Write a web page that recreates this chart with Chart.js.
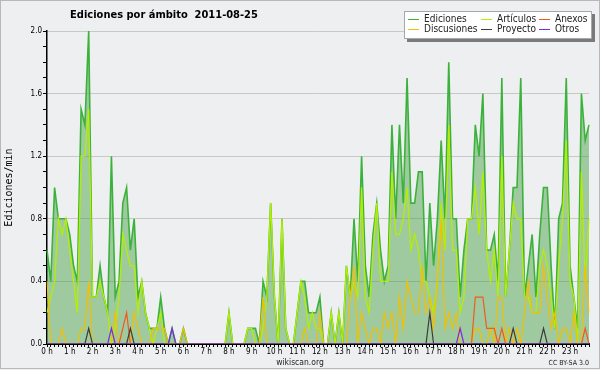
<!DOCTYPE html>
<html>
<head>
<meta charset="utf-8">
<script src="https://cdn.jsdelivr.net/npm/chart.js@4.4.1/dist/chart.umd.min.js"></script>
<style>
  html, body { margin: 0; padding: 0; background: #eeeff0; }
  canvas { display: block; }
</style>
</head>
<body>
<canvas id="chart" width="600" height="370"></canvas>
<script>
const chartTitle = "Ediciones por ámbito  2011-08-25";
const yTitle = "Ediciones/min";
const hours = ["0 h", "1 h", "2 h", "3 h", "4 h", "5 h", "6 h", "7 h", "8 h", "9 h", "10 h", "11 h",
  "12 h", "13 h", "14 h", "15 h", "16 h", "17 h", "18 h", "19 h", "20 h", "21 h", "22 h", "23 h"];

// one value every 10 minutes, 12 values per row (2 hours)
const ediciones = [
  0.6, 0.4, 1.0, 0.8, 0.8, 0.8, 0.7, 0.5, 0.4, 1.5, 1.4, 2.0,
  0.3, 0.3, 0.5, 0.3, 0.2, 1.2, 0.3, 0.4, 0.9, 1.0, 0.6, 0.8,
  0.3, 0.4, 0.2, 0.1, 0.1, 0.1, 0.3, 0.1, 0, 0.1, 0, 0,
  0.1, 0, 0, 0, 0, 0, 0, 0, 0, 0, 0, 0,
  0.2, 0, 0, 0, 0, 0.1, 0.1, 0.1, 0, 0.4, 0.3, 0.9,
  0.3, 0, 0.8, 0.1, 0, 0, 0.2, 0.4, 0.4, 0.2, 0.2, 0.2,
  0.3, 0, 0, 0.2, 0, 0.2, 0, 0.5, 0.3, 0.8, 0.4, 1.2,
  0.5, 0.3, 0.7, 0.9, 0.6, 0.4, 0.5, 1.4, 0.8, 1.4, 0.9, 1.7,
  0.9, 0.9, 1.1, 1.1, 0.4, 0.9, 0.5, 0.8, 1.3, 0.8, 1.8, 0.8,
  0.8, 0.3, 0.6, 0.8, 0.8, 1.4, 1.2, 1.6, 0.6, 0.6, 0.7, 0.4,
  1.7, 0.3, 0.6, 1.0, 1.0, 1.7, 0.3, 0.5, 0.7, 0.3, 0.7, 1.0,
  1.0, 0.5, 0.1, 0.8, 0.9, 1.7, 0.5, 0.3, 0.1, 1.6, 1.3, 1.4
];
const articulos = [
  0.2, 0.3, 0.4, 0.8, 0.7, 0.8, 0.6, 0.4, 0.2, 1.2, 1.2, 1.5,
  0.3, 0.3, 0.4, 0.3, 0.2, 0, 0.1, 0.3, 0.7, 0.6, 0.5, 0.5,
  0.2, 0.4, 0.2, 0.1, 0, 0.1, 0.2, 0, 0, 0, 0, 0,
  0, 0, 0, 0, 0, 0, 0, 0, 0, 0, 0, 0,
  0.2, 0, 0, 0, 0, 0.1, 0.1, 0, 0, 0.1, 0.3, 0.9,
  0.3, 0, 0.8, 0.1, 0, 0, 0.2, 0.4, 0.3, 0.1, 0.2, 0.1,
  0.1, 0, 0, 0.2, 0, 0.2, 0, 0.5, 0.3, 0.4, 0.3, 1.0,
  0.3, 0.2, 0.6, 0.9, 0.4, 0.4, 0.4, 1.1, 0.7, 0.7, 0.8, 1.0,
  0.6, 0.7, 0.6, 0.4, 0.4, 0.3, 0.2, 0.4, 0.9, 0.6, 1.4, 0.6,
  0.6, 0.2, 0.3, 0.8, 0.8, 1.0, 0.7, 1.1, 0.6, 0.4, 0.6, 0.3,
  1.2, 0.3, 0.6, 0.9, 0.8, 0.8, 0.3, 0.3, 0.2, 0.2, 0.5, 0.6,
  0.5, 0.3, 0.1, 0.5, 0.8, 1.3, 0.4, 0.3, 0, 1.1, 0.4, 0.8
];
const discusiones = [
  0.4, 0, 0, 0, 0.1, 0, 0, 0, 0, 0.1, 0.1, 0.4,
  0, 0, 0, 0, 0, 0, 0.2, 0, 0, 0, 0, 0.2,
  0.1, 0, 0, 0, 0.1, 0.1, 0.1, 0.1, 0, 0, 0, 0,
  0.1, 0, 0, 0, 0, 0, 0, 0, 0, 0, 0, 0,
  0, 0, 0, 0, 0, 0, 0, 0, 0, 0.3, 0, 0,
  0, 0, 0, 0, 0, 0, 0, 0, 0.1, 0, 0, 0,
  0.2, 0, 0, 0, 0, 0, 0, 0, 0.3, 0.5, 0, 0.2,
  0.1, 0, 0.1, 0.1, 0, 0.2, 0.1, 0.2, 0, 0.3, 0.1, 0.4,
  0.3, 0.2, 0.2, 0.5, 0.2, 0.3, 0.1, 0.4, 0.8, 0.1, 0.2, 0.1,
  0.2, 0, 0, 0, 0, 0.1, 0.1, 0, 0, 0.1, 0, 0.3,
  0.3, 0, 0.1, 0, 0.1, 0, 0.2, 0.4, 0.2, 0.2, 0.2, 0.5,
  0.3, 0.1, 0.2, 0, 0.1, 0.1, 0, 0.2, 0, 0, 0.5, 0.2
];
const anexos = [
  0, 0, 0, 0, 0, 0, 0, 0, 0, 0, 0, 0,
  0, 0, 0, 0, 0, 0, 0, 0, 0.1, 0.2, 0, 0,
  0, 0, 0, 0, 0, 0, 0, 0, 0, 0, 0, 0,
  0, 0, 0, 0, 0, 0, 0, 0, 0, 0, 0, 0,
  0, 0, 0, 0, 0, 0, 0, 0, 0, 0, 0, 0,
  0, 0, 0, 0, 0, 0, 0, 0, 0, 0, 0, 0,
  0, 0, 0, 0, 0, 0, 0, 0, 0, 0, 0, 0,
  0, 0, 0, 0, 0, 0, 0, 0, 0, 0, 0, 0,
  0, 0, 0, 0, 0, 0, 0, 0, 0, 0, 0, 0,
  0, 0, 0, 0, 0, 0.3, 0.3, 0.3, 0.1, 0.1, 0.1, 0,
  0.1, 0, 0, 0, 0, 0, 0, 0, 0, 0, 0, 0,
  0, 0, 0, 0, 0, 0, 0, 0, 0, 0, 0.1, 0
];
const proyecto = [
  0, 0, 0, 0, 0, 0, 0, 0, 0, 0, 0, 0.1,
  0, 0, 0, 0, 0, 0, 0, 0, 0, 0, 0.1, 0,
  0, 0, 0, 0, 0, 0, 0, 0, 0, 0, 0, 0,
  0, 0, 0, 0, 0, 0, 0, 0, 0, 0, 0, 0,
  0, 0, 0, 0, 0, 0, 0, 0, 0, 0, 0, 0,
  0, 0, 0, 0, 0, 0, 0, 0, 0, 0, 0, 0,
  0, 0, 0, 0, 0, 0, 0, 0, 0, 0, 0, 0,
  0, 0, 0, 0, 0, 0, 0, 0, 0, 0, 0, 0,
  0, 0, 0, 0, 0, 0.2, 0, 0, 0, 0, 0, 0,
  0, 0, 0, 0, 0, 0, 0, 0, 0, 0, 0, 0,
  0, 0, 0, 0.1, 0, 0, 0, 0, 0, 0, 0, 0.1,
  0, 0, 0, 0, 0, 0, 0, 0, 0, 0, 0, 0
];
const otros = [
  0, 0, 0, 0, 0, 0, 0, 0, 0, 0, 0, 0,
  0, 0, 0, 0, 0, 0.1, 0, 0, 0, 0, 0, 0,
  0, 0, 0, 0, 0, 0, 0, 0, 0, 0.1, 0, 0,
  0, 0, 0, 0, 0, 0, 0, 0, 0, 0, 0, 0,
  0, 0, 0, 0, 0, 0, 0, 0, 0, 0, 0, 0,
  0, 0, 0, 0, 0, 0, 0, 0, 0, 0, 0, 0,
  0, 0, 0, 0, 0, 0, 0, 0, 0, 0, 0, 0,
  0, 0, 0, 0, 0, 0, 0, 0, 0, 0, 0, 0,
  0, 0, 0, 0, 0, 0, 0, 0, 0, 0, 0, 0,
  0, 0.1, 0, 0, 0, 0, 0, 0, 0, 0, 0, 0,
  0, 0, 0, 0, 0, 0, 0, 0, 0, 0, 0, 0,
  0, 0, 0, 0, 0, 0, 0, 0, 0, 0, 0, 0
];

const colors = {
  ediciones: "#3bb23b",
  articulos: "#b4ee00",
  discusiones: "#f2c000",
  anexos: "#f05a1c",
  proyecto: "#3c3c3c",
  otros: "#7a2ae6"
};

const condensed = "'DejaVu Sans Condensed', 'DejaVu Sans', sans-serif";
Chart.defaults.font.family = condensed;

// one slot per 10 minutes, only the full hour is labelled
const slots = [];
hours.forEach(h => {
  for (let m = 0; m < 6; m++) slots.push(m === 0 ? h : "");
});

const isMajor = v => Math.round(v * 10) % 4 === 0;

const decorations = {
  id: "decorations",
  beforeDraw(chart) {
    const ctx = chart.ctx;
    ctx.save();
    ctx.fillStyle = "#eeeff0";
    ctx.fillRect(0, 0, chart.width, chart.height);
    ctx.restore();
  },
  afterDraw(chart) {
    const ctx = chart.ctx;
    ctx.save();

    ctx.fillStyle = "#000";
    ctx.font = "bold 11px " + condensed;
    ctx.textAlign = "center";
    ctx.textBaseline = "alphabetic";
    ctx.fillText(chartTitle, 164, 18);

    ctx.fillStyle = "#222";
    ctx.font = "8.5px " + condensed;
    ctx.fillText("wikiscan.org", 300, 365);
    ctx.font = "7px " + condensed;
    ctx.textAlign = "right";
    ctx.fillText("CC BY-SA 3.0", 589, 365);

    // legend box
    ctx.fillStyle = "#7a7a7a";
    ctx.fillRect(407, 14, 188, 28);
    ctx.fillStyle = "#fff";
    ctx.fillRect(404, 11, 188, 28);
    ctx.strokeStyle = "#a8a8a8";
    ctx.lineWidth = 1;
    ctx.strokeRect(404.5, 11.5, 187, 27);

    const items = [
      ["Ediciones", colors.ediciones, 408, 19.5],
      ["Artículos", colors.articulos, 481, 19.5],
      ["Anexos", colors.anexos, 539, 19.5],
      ["Discusiones", colors.discusiones, 408, 29.5],
      ["Proyecto", colors.proyecto, 481, 29.5],
      ["Otros", colors.otros, 539, 29.5]
    ];
    ctx.font = "10px " + condensed;
    ctx.textAlign = "left";
    ctx.textBaseline = "middle";
    items.forEach(([text, color, x, y]) => {
      ctx.strokeStyle = color;
      ctx.beginPath();
      ctx.moveTo(x, y);
      ctx.lineTo(x + 11, y);
      ctx.stroke();
      ctx.fillStyle = "#222";
      ctx.fillText(text, x + 16, y);
    });

    ctx.strokeStyle = "#b8b8b8";
    ctx.strokeRect(0.5, 0.5, 599, 368);
    ctx.restore();
  }
};

function lineSet(label, data, color, width, order) {
  return {
    label: label,
    data: data,
    borderColor: color,
    borderWidth: width,
    fill: false,
    order: order
  };
}

new Chart(document.getElementById("chart"), {
  type: "line",
  data: {
    labels: slots,
    datasets: [
      {
        label: "Ediciones",
        data: ediciones,
        borderColor: colors.ediciones,
        backgroundColor: "rgba(50, 150, 50, 0.42)",
        borderWidth: 1.6,
        fill: "origin",
        order: 6
      },
      lineSet("Artículos", articulos, colors.articulos, 1.3, 5),
      lineSet("Discusiones", discusiones, colors.discusiones, 1.2, 4),
      lineSet("Anexos", anexos, colors.anexos, 1.2, 3),
      lineSet("Proyecto", proyecto, colors.proyecto, 1.2, 2),
      lineSet("Otros", otros, colors.otros, 1.2, 1)
    ]
  },
  options: {
    responsive: false,
    animation: false,
    devicePixelRatio: 1,
    layout: { padding: { top: 31, right: 11, bottom: 0, left: 0 } },
    elements: {
      point: { radius: 0, hoverRadius: 0 },
      line: { tension: 0 }
    },
    plugins: {
      legend: { display: false },
      title: { display: false },
      tooltip: { enabled: false }
    },
    scales: {
      x: {
        type: "category",
        offset: false,
        z: 1,
        grid: {
          drawOnChartArea: false,
          drawTicks: true,
          tickLength: 3,
          tickColor: "#000",
          tickWidth: 1
        },
        border: { color: "#000", width: 2 },
        ticks: {
          autoSkip: false,
          maxRotation: 0,
          minRotation: 0,
          padding: 0,
          color: "#000",
          font: { size: 8 }
        },
        afterFit(scale) { scale.height = 26; }
      },
      y: {
        min: 0,
        max: 2,
        grid: {
          color: ctx => isMajor(ctx.tick.value) ? "#c8c8c8" : "rgba(0,0,0,0)",
          tickColor: "#000",
          tickLength: 4,
          tickWidth: 1
        },
        border: { color: "#000", width: 1.5 },
        ticks: {
          stepSize: 0.1,
          autoSkip: false,
          padding: 1,
          color: "#000",
          font: { size: 8 },
          callback: v => isMajor(v) ? v.toFixed(1) : ""
        },
        title: {
          display: true,
          text: yTitle,
          color: "#000",
          font: { family: "'DejaVu Sans Mono', monospace", size: 10 },
          padding: { top: 3, bottom: 0 }
        },
        afterFit(scale) { scale.width = 47; }
      }
    }
  },
  plugins: [decorations]
});
</script>
</body>
</html>
